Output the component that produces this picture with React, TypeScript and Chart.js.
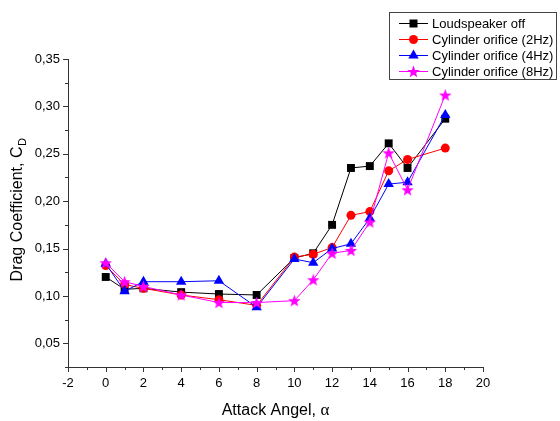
import React, { useEffect, useRef } from "react";
import { Chart, registerables } from "chart.js";

Chart.register(...registerables);

const angles = [0, 1, 2, 4, 6, 8, 10, 11, 12, 13, 14, 15, 16, 18];
const loudspeakerOff = [0.120, 0.107, 0.108, 0.104, 0.102, 0.101, 0.140, 0.145, 0.175, 0.235, 0.237, 0.261, 0.235, 0.287];
const orifice2Hz = [0.132, 0.112, 0.108, 0.101, 0.096, 0.090, 0.141, 0.144, 0.151, 0.185, 0.189, 0.232, 0.244, 0.256];
const orifice4Hz = [0.134, 0.105, 0.115, 0.115, 0.116, 0.088, 0.139, 0.135, 0.150, 0.155, 0.182, 0.218, 0.220, 0.291];
const orifice8Hz = [0.135, 0.115, 0.110, 0.101, 0.093, 0.093, 0.095, 0.117, 0.145, 0.148, 0.178, 0.251, 0.212, 0.312];

const seriesLabels = [
  "Loudspeaker off",
  "Cylinder orifice (2Hz)",
  "Cylinder orifice (4Hz)",
  "Cylinder orifice (8Hz)",
];
const seriesColors = ["#000000", "#ff0000", "#0000ff", "#ff00ff"];

const xTitle = "Attack Angel, ";
const xTitleSymbol = "α";
const yTitle = "Drag Coefficient, C";
const yTitleSub = "D";

const FONT = "'Liberation Sans', Arial, sans-serif";
const AXIS_COLOR = "#333333";

function makeStar(color: string, size: number) {
  const c = document.createElement("canvas");
  c.width = size;
  c.height = size;
  const ctx = c.getContext("2d")!;
  const cx = size / 2;
  const cy = size / 2 + 0.6;
  const outer = size / 2;
  const inner = outer * 0.42;
  ctx.beginPath();
  for (let i = 0; i < 10; i++) {
    const r = i % 2 === 0 ? outer : inner;
    const a = -Math.PI / 2 + (i * Math.PI) / 5;
    const px = cx + r * Math.cos(a);
    const py = cy + r * Math.sin(a);
    if (i === 0) ctx.moveTo(px, py);
    else ctx.lineTo(px, py);
  }
  ctx.closePath();
  ctx.fillStyle = color;
  ctx.fill();
  return c;
}

function drawMarker(ctx: CanvasRenderingContext2D, kind: number, x: number, y: number, star: HTMLCanvasElement) {
  ctx.save();
  ctx.fillStyle = seriesColors[kind];
  if (kind === 0) {
    ctx.fillRect(x - 4, y - 4, 8, 8);
  } else if (kind === 1) {
    ctx.beginPath();
    ctx.arc(x, y, 4.5, 0, Math.PI * 2);
    ctx.fill();
  } else if (kind === 2) {
    const r = 6;
    ctx.beginPath();
    ctx.moveTo(x, y - r);
    ctx.lineTo(x + r * 0.866, y + r * 0.5);
    ctx.lineTo(x - r * 0.866, y + r * 0.5);
    ctx.closePath();
    ctx.fill();
  } else {
    ctx.drawImage(star, x - star.width / 2, y - star.height / 2);
  }
  ctx.restore();
}

export default function App() {
  const ref = useRef<HTMLCanvasElement | null>(null);

  useEffect(() => {
    document.body.style.margin = "0";
    const canvas = ref.current!;
    const star = makeStar("#ff00ff", 13);
    const data = [loudspeakerOff, orifice2Hz, orifice4Hz, orifice8Hz];
    const styles: any[] = ["rect", "circle", "triangle", star];
    const radii = [5.6, 4.5, 6, 6.5];

    const extras = {
      id: "extras",
      afterDraw(chart: any) {
        const ctx: CanvasRenderingContext2D = chart.ctx;
        const xs = chart.scales.x;
        const ys = chart.scales.y;
        const area = chart.chartArea;
        ctx.save();
        ctx.strokeStyle = AXIS_COLOR;
        ctx.lineWidth = 1;
        // x ticks
        for (let v = -2; v <= 20; v += 1) {
          const px = Math.round(xs.getPixelForValue(v)) + 0.5;
          const len = v % 2 === 0 ? 5 : 3;
          ctx.beginPath();
          ctx.moveTo(px, area.bottom);
          ctx.lineTo(px, area.bottom + len);
          ctx.stroke();
        }
        // y ticks
        for (let i = 1; i <= 14; i++) {
          const v = i * 0.025;
          const py = Math.round(ys.getPixelForValue(v)) + 0.5;
          const len = i % 2 === 0 ? 5 : 3;
          ctx.beginPath();
          ctx.moveTo(area.left, py);
          ctx.lineTo(area.left - len, py);
          ctx.stroke();
        }
        // x title
        ctx.fillStyle = "#000";
        ctx.textBaseline = "alphabetic";
        ctx.font = `16px ${FONT}`;
        const w1 = ctx.measureText(xTitle).width;
        ctx.font = `17px 'Liberation Serif', serif`;
        const w2 = ctx.measureText(xTitleSymbol).width;
        const cx = (area.left + area.right) / 2;
        const sx = cx - (w1 + w2) / 2;
        ctx.font = `16px ${FONT}`;
        ctx.textAlign = "left";
        ctx.fillText(xTitle, sx, 415);
        ctx.font = `17px 'Liberation Serif', serif`;
        ctx.fillText(xTitleSymbol, sx + w1, 415);
        // y title
        ctx.save();
        ctx.translate(22, (area.top + area.bottom) / 2 - 3);
        ctx.rotate(-Math.PI / 2);
        ctx.font = `16px ${FONT}`;
        const m1 = ctx.measureText(yTitle).width;
        ctx.font = `11px ${FONT}`;
        const m2 = ctx.measureText(yTitleSub).width;
        const start = -(m1 + m2) / 2;
        ctx.font = `16px ${FONT}`;
        ctx.fillText(yTitle, start, 0);
        ctx.font = `11px ${FONT}`;
        ctx.fillText(yTitleSub, start + m1 + 0.5, 4);
        ctx.restore();
        // legend
        ctx.fillStyle = "#ffffff";
        ctx.fillRect(389.5, 12.5, 167, 67);
        ctx.strokeStyle = "#444";
        ctx.strokeRect(389.5, 12.5, 167, 67);
        const rows = [23.5, 39.5, 55.5, 71.5];
        ctx.font = `13px ${FONT}`;
        ctx.textBaseline = "middle";
        for (let i = 0; i < 4; i++) {
          const ry = rows[i];
          ctx.strokeStyle = seriesColors[i];
          ctx.beginPath();
          ctx.moveTo(399, ry);
          ctx.lineTo(428, ry);
          ctx.stroke();
          drawMarker(ctx, i, 413.5, ry, star);
          ctx.fillStyle = "#000";
          ctx.fillText(seriesLabels[i], 432, ry + 0.5);
        }
        ctx.restore();
      },
    };

    const chart = new Chart(canvas, {
      type: "line",
      data: {
        datasets: data.map((d, i) => ({
          label: seriesLabels[i],
          data: angles.map((a, j) => ({ x: a, y: d[j] })),
          borderColor: seriesColors[i],
          backgroundColor: seriesColors[i],
          borderWidth: 1,
          pointStyle: styles[i],
          pointRadius: radii[i],
          pointBorderWidth: 0,
          pointBackgroundColor: seriesColors[i],
          pointBorderColor: seriesColors[i],
          tension: 0,
          fill: false,
          order: 4 - i,
        })),
      },
      options: {
        animation: false,
        responsive: false,
        devicePixelRatio: 1,
        layout: { padding: { left: 0, top: 59, right: 77, bottom: 0 } },
        plugins: {
          legend: { display: false },
          tooltip: { enabled: false },
          title: { display: false },
        },
        scales: {
          x: {
            type: "linear",
            min: -2,
            max: 20,
            afterFit: (s: any) => {
              s.height = 54;
            },
            border: { display: true, color: AXIS_COLOR, width: 1 },
            grid: { display: true, drawOnChartArea: false, drawTicks: true, tickLength: 5, tickColor: "rgba(0,0,0,0)" },
            ticks: {
              stepSize: 2,
              autoSkip: false,
              maxRotation: 0,
              padding: 4,
              color: "#000",
              font: { family: FONT, size: 13 },
              callback: (v: any) => String(v),
            },
          },
          y: {
            type: "linear",
            min: 0.025,
            max: 0.35,
            afterFit: (s: any) => {
              s.width = 68;
            },
            border: { display: true, color: AXIS_COLOR, width: 1 },
            grid: { display: true, drawOnChartArea: false, drawTicks: true, tickLength: 5, tickColor: "rgba(0,0,0,0)" },
            ticks: {
              stepSize: 0.025,
              autoSkip: false,
              padding: 3,
              color: "#000",
              font: { family: FONT, size: 13 },
              callback: (v: any) => {
                const k = Math.round(Number(v) * 1000);
                if (k % 50 !== 0) return "";
                return (k / 1000).toFixed(2).replace(".", ",");
              },
            },
          },
        },
      },
      plugins: [extras],
    });
    return () => chart.destroy();
  }, []);

  return (
    <div style={{ width: 560, height: 421 }}>
      <canvas ref={ref} width={560} height={421} style={{ display: "block", width: 560, height: 421 }} />
    </div>
  );
}
